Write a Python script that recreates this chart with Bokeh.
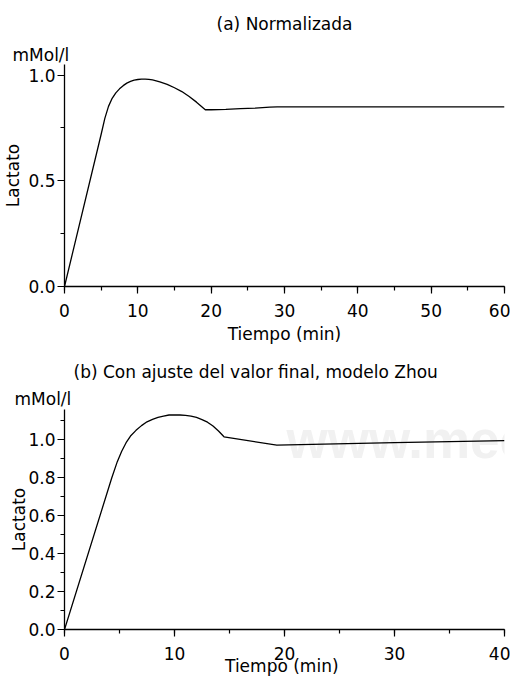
from bokeh.plotting import figure
from bokeh.models import Range1d, Label, Title, SingleIntervalTicker, PrintfTickFormatter
from bokeh.layouts import column
from bokeh.embed import file_html
from bokeh.resources import INLINE

# ---- data ----
t_a = [0, 5.0, 5.5, 6.0, 6.5, 7.0, 7.5, 8.0, 8.5, 9.0, 9.5, 10.0, 10.5, 11.0, 11.5, 12.0,
       13.0, 14.0, 15.0, 16.0, 17.0, 18.0, 19.2, 20.0, 22.0, 24.0, 26.0, 28.0, 29.0, 40.0, 50.0, 60.0]
y_a = [0, 0.72, 0.795, 0.852, 0.89, 0.916, 0.935, 0.95, 0.962, 0.97, 0.976, 0.979, 0.981, 0.981, 0.98, 0.977,
       0.968, 0.956, 0.94, 0.922, 0.899, 0.872, 0.836, 0.836, 0.838, 0.841, 0.844, 0.848, 0.85, 0.85, 0.85, 0.85]

t_b = [0, 4.3, 4.8, 5.2, 5.6, 6.0, 6.5, 7.0, 7.5, 8.0, 8.5, 9.0, 9.5, 10.0, 10.5, 11.0, 11.5,
       12.0, 12.5, 13.0, 13.5, 14.0, 14.5, 19.3, 30.0, 40.0]
y_b = [0, 0.80, 0.885, 0.94, 0.985, 1.02, 1.05, 1.075, 1.095, 1.108, 1.118, 1.125, 1.131, 1.132, 1.131, 1.129, 1.125,
       1.118, 1.107, 1.093, 1.073, 1.047, 1.016, 0.972, 0.985, 0.996]

title_a = "(a) Normalizada"
title_b = "(b) Con ajuste del valor final, modelo Zhou"
unit_label = "mMol/l"
y_label = "Lactato"
x_label_a = "Tiempo (min)"
x_label_b = "Tiempo  (min)"
watermark = "www.mec"

FONT = "DejaVu Sans"
FS = "17px"


def style(p, x_interval, y_interval, xlabel, xl_standoff, yl_standoff):
    p.xaxis.ticker = SingleIntervalTicker(interval=x_interval, num_minor_ticks=2)
    p.yaxis.ticker = SingleIntervalTicker(interval=y_interval, num_minor_ticks=2)
    p.yaxis.formatter = PrintfTickFormatter(format="%.1f")
    for ax in (p.xaxis, p.yaxis):
        ax.axis_line_color = "black"
        ax.axis_line_width = 1.3
        ax.major_tick_line_color = "black"
        ax.minor_tick_line_color = "black"
        ax.major_tick_line_width = 1.2
        ax.minor_tick_line_width = 1.2
        ax.major_tick_out = 7
        ax.major_tick_in = 0
        ax.minor_tick_out = 4
        ax.minor_tick_in = 0
        ax.major_label_text_font = FONT
        ax.major_label_text_font_size = FS
        ax.major_label_text_color = "black"
        ax.axis_label_text_font = FONT
        ax.axis_label_text_font_size = FS
        ax.axis_label_text_font_style = "normal"
        ax.axis_label_text_color = "black"
    p.xaxis.major_label_standoff = 10
    p.yaxis.major_label_standoff = 2
    p.xaxis.axis_label = xlabel
    p.yaxis.axis_label = y_label
    p.xaxis.axis_label_standoff = xl_standoff
    p.yaxis.axis_label_standoff = yl_standoff
    p.xgrid.visible = False
    p.ygrid.visible = False
    p.outline_line_color = None
    p.background_fill_color = "white"
    p.border_fill_color = "white"


def add_titles(p, main, main_align, main_offset, main_standoff, unit_offset, unit_standoff):
    # first added sits closest to the frame
    p.add_layout(Title(text=unit_label, align="left", offset=unit_offset, standoff=unit_standoff,
                       text_font=FONT, text_font_size=FS, text_font_style="normal",
                       text_color="black"), "above")
    p.add_layout(Title(text=main, align=main_align, offset=main_offset, standoff=main_standoff,
                       text_font=FONT, text_font_size=FS, text_font_style="normal",
                       text_color="black"), "above")


# ---- top chart ----
p1 = figure(width=510, height=346, output_backend="svg", toolbar_location=None, title=None,
            x_range=Range1d(0, 60), y_range=Range1d(0, 1.05),
            min_border_left=62, min_border_right=6, min_border_top=64, min_border_bottom=58)
style(p1, 10, 0.5, x_label_a, 4, 2)
add_titles(p1, title_a, "center", 0, 17, -52, 0)
p1.line(t_a, y_a, line_color="black", line_width=1.3)

# ---- bottom chart ----
p2 = figure(width=510, height=333, output_backend="svg", toolbar_location=None, title=None,
            x_range=Range1d(0, 40), y_range=Range1d(0, 1.16),
            min_border_left=62, min_border_right=6, min_border_top=63, min_border_bottom=50)
style(p2, 10, 0.2, x_label_b, -7, -4)
add_titles(p2, title_b, "left", 9, 10, -50, 1)
p2.add_layout(Label(x=20.18, y=1.0, text=watermark, text_font="Liberation Sans",
                    text_font_style="bold", text_font_size="53px", text_color="#f1f1f1",
                    text_baseline="alphabetic", level="underlay"))
p2.line(t_b, y_b, line_color="black", line_width=1.3)

layout = column(p1, p2)
open("out.html", "w").write(file_html(layout, INLINE))
